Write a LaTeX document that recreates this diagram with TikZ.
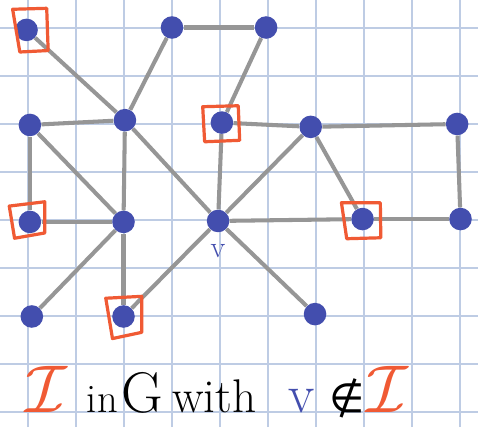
\RequirePackage{fix-cm}
\documentclass[tikz,border=0pt]{standalone}
\usepackage{amsmath, amssymb}
\usepackage{fontspec}
\usepackage{tikz}
\usetikzlibrary{calc,positioning}
\newfontfamily\djvfont{DejaVu Sans}
\definecolor{vblue}{RGB}{67,78,174}
\definecolor{setred}{RGB}{240,90,52}
\definecolor{gridblue}{RGB}{190,204,228}
\definecolor{edgegray}{RGB}{150,150,150}

\begin{document}
\begin{tikzpicture}[
    vtx/.style={circle, fill=vblue, inner sep=0pt, minimum size=0.47cm},
    edge/.style={draw=edgegray, line width=2.4pt},
    inset/.style={draw=setred, line width=1.9pt, line join=round},
    word/.style={anchor=base west, inner sep=0pt}
  ]
  % paper and squares
  \fill[white] (-0.583,-8.3125) rectangle (9.375,0.583);
  \useasboundingbox (-0.583,-8.3125) rectangle (9.375,0.583);
  \draw[gridblue, line width=0.7pt] (-0.583,-8.3125) grid (9.375,0.583);

  % vertices
  \node[vtx] (x1)  at (-0.03,-0.04) {};
  \node[vtx] (x2)  at (3.00,0.01) {};
  \node[vtx] (x3)  at (4.96,0.01) {};
  \node[vtx] (x4)  at (0.04,-2.02) {};
  \node[vtx] (x5)  at (2.02,-1.92) {};
  \node[vtx] (x6)  at (4.04,-1.97) {};
  \node[vtx] (x7)  at (5.89,-2.06) {};
  \node[vtx] (x8)  at (8.94,-2.00) {};
  \node[vtx] (x9)  at (0.04,-4.04) {};
  \node[vtx] (x10) at (1.99,-4.04) {};
  \node[vtx] (v)   at (3.96,-4.02) {};
  \node[vtx] (x11) at (6.97,-3.98) {};
  \node[vtx] (x12) at (9.01,-3.98) {};
  \node[vtx] (x13) at (0.08,-6.01) {};
  \node[vtx] (x14) at (1.99,-6.01) {};
  \node[vtx] (x15) at (5.98,-5.96) {};
  \node[text=vblue, font=\fontsize{18}{20}\selectfont, inner sep=0pt, below=0.24cm of v] (vl) {v};

  % edges
  \draw[edge] (x1) -- (x5);
  \draw[edge] (x5) -- (v);
  \draw[edge] (v) -- (x15);
  \draw[edge] (x2) -- (x3);
  \draw[edge] (x2) -- (x5);
  \draw[edge] (x3) -- (x6);
  \draw[edge] (x4) -- (x5);
  \draw[edge] (x4) -- (x9);
  \draw[edge] (x4) -- (x10);
  \draw[edge] (x5) -- (x10);
  \draw[edge] (x6) -- (v);
  \draw[edge] (x6) -- (x7);
  \draw[edge] (x7) -- (x8);
  \draw[edge] (x7) -- (v);
  \draw[edge] (x7) -- (x11);
  \draw[edge] (x8) -- (x12);
  \draw[edge] (x9) -- (x10);
  \draw[edge] (v) -- (x11);
  \draw[edge] (x11) -- (x12);
  \draw[edge] (x10) -- (x13);
  \draw[edge] (x10) -- (x14);
  \draw[edge] (x14) -- (v);

  % the independent set
  \draw[inset] ($(x1)+(-0.29,0.43)$) -- ($(x1)+(0.42,0.45)$) -- ($(x1)+(0.45,-0.43)$) -- ($(x1)+(-0.14,-0.46)$) -- cycle;
  \draw[inset] ($(x6)+(-0.40,0.33)$) -- ($(x6)+(0.34,0.35)$) -- ($(x6)+(0.37,-0.37)$) -- ($(x6)+(-0.36,-0.40)$) -- cycle;
  \draw[inset] ($(x9)+(-0.43,0.33)$) -- ($(x9)+(0.31,0.42)$) -- ($(x9)+(0.31,-0.23)$) -- ($(x9)+(-0.32,-0.34)$) -- cycle;
  \draw[inset] ($(x11)+(-0.44,0.34)$) -- ($(x11)+(0.37,0.34)$) -- ($(x11)+(0.38,-0.39)$) -- ($(x11)+(-0.33,-0.41)$) -- cycle;
  \draw[inset] ($(x14)+(-0.37,0.38)$) -- ($(x14)+(0.38,0.42)$) -- ($(x14)+(0.38,-0.33)$) -- ($(x14)+(-0.23,-0.46)$) -- cycle;

  % caption
  \node[word, text=setred, font=\fontsize{40}{42}\selectfont] (t1) at (-0.05,-8) {$\mathcal{I}$};
  \node[word, font=\fontsize{24}{26}\selectfont] (t2) at (1.22,-8) {in};
  \node[word, font=\fontsize{34}{36}\selectfont] (t3) at (1.94,-8) {G};
  \node[word, font=\fontsize{28}{30}\selectfont] (t4) at (3.00,-8) {with};
  \node[word, text=vblue, font=\fontsize{32}{34}\selectfont] (t5) at (5.42,-8) {v};
  \node[word, font=\djvfont\fontsize{24}{26}\selectfont] (t6) at (6.28,-8) {∉};
  \node[word, text=setred, font=\fontsize{40}{42}\selectfont] (t7) at (7.05,-8) {$\mathcal{I}$};
\end{tikzpicture}
\end{document}
